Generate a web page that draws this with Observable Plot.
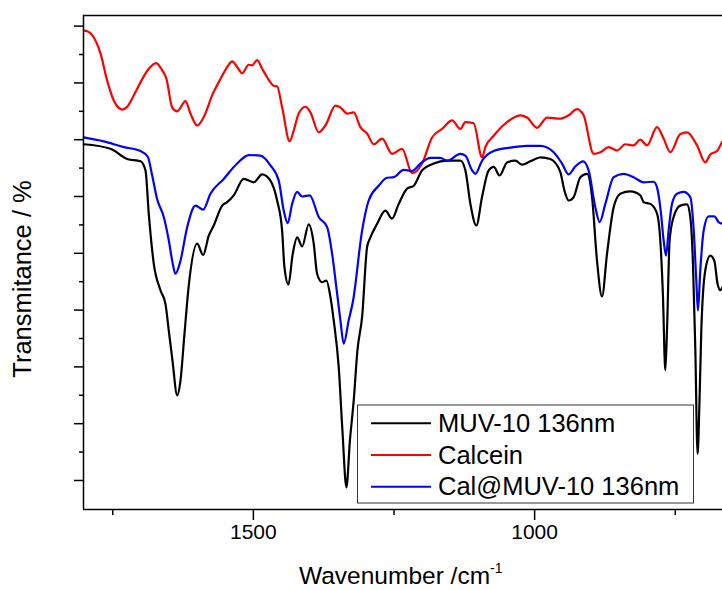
<!DOCTYPE html>
<html><head><meta charset="utf-8">
<script src="https://cdn.jsdelivr.net/npm/d3@7"></script>
<script src="https://cdn.jsdelivr.net/npm/@observablehq/plot@0.6"></script>
<style>body{margin:0;background:#fff}</style>
</head><body><div id="chart"></div>
<script>
const seriesNames = ["MUV-10 136nm", "Calcein", "Cal@MUV-10 136nm"];
const seriesColors = ["#000000", "#ff0000", "#0000ff"];
const xTicksMajor = [1500, 1000];
const xTicksMinor = [1750, 1250, 750];
const yTicksMajor = [10, 20, 30, 40, 50, 60, 70, 80, 90];
const yTicksMinor = [15, 25, 35, 45, 55, 65, 75, 85];
const xDomain = [1802, 666];
const yDomain = [4.89, 91.87];

const muvWn = [1801.5,1754.0,1724.3,1700.7,1691.8,1686.0,1677.1,1665.2,1656.3,1650.4,
1643.8,1635.5,1629.6,1622.5,1614.9,1599.9,1589.3,1579.3,1570.4,1555.5,
1546.6,1534.9,1517.1,1499.3,1484.4,1469.7,1457.8,1448.9,1444.8,1437.7,
1430.0,1422.2,1413.3,1401.6,1392.7,1386.7,1377.8,1370.1,1363.0,1357.2,
1348.3,1341.7,1334.6,1328.4,1321.6,1315.0,1306.7,1297.8,1291.9,1280.0,
1265.3,1253.4,1241.6,1226.7,1214.9,1200.1,1179.4,1155.6,1132.0,1123.1,
1114.2,1103.6,1093.5,1081.7,1072.8,1062.2,1049.0,1034.2,1022.3,1007.6,
989.8,972.0,954.3,947.2,939.5,930.6,918.7,906.8,897.9,889.1,
880.2,871.3,859.5,847.6,829.9,812.1,806.2,794.3,782.4,776.6,
771.8,767.7,764.7,760.0,752.9,741.0,729.1,723.3,718.5,714.4,
710.3,706.7,703.7,696.6,687.7,680.6,674.7,669.9,666.4];
const muvT = [69.2,68.4,66.6,66.2,64.6,57.0,48.2,43.5,41.1,36.4,
31.1,25.0,27.6,35.8,44.3,51.7,49.7,53.1,54.9,58.4,
59.0,60.2,63.1,62.5,63.9,62.8,59.3,54.0,47.6,44.5,
49.9,52.8,51.2,55.1,51.7,46.4,44.9,45.2,42.3,38.2,
30.0,18.8,8.8,17.0,24.1,32.9,38.8,51.1,52.8,55.2,
57.5,56.1,58.7,61.4,61.9,64.6,65.8,66.3,66.3,64.6,
58.7,54.9,59.9,64.6,65.2,63.7,66.0,66.3,65.6,66.2,
66.9,66.6,64.3,61.1,59.3,59.9,63.4,64.0,59.9,48.7,
42.4,49.9,58.1,60.5,60.9,60.2,59.0,58.7,57.0,52.3,
42.3,29.4,36.4,52.3,56.4,58.4,58.6,56.4,48.2,33.5,
14.7,24.7,36.4,47.0,49.6,48.7,44.6,43.5,44.0];

const calceinWn = [1801.5,1795.4,1783.7,1771.8,1759.9,1748.2,1739.3,1733.2,1724.3,1712.6,
1700.7,1686.0,1672.8,1662.1,1654.5,1644.4,1635.5,1620.7,1611.8,1599.9,
1588.2,1573.3,1558.5,1546.6,1537.7,1528.8,1520.0,1508.2,1502.2,1493.3,
1484.4,1475.5,1463.8,1457.8,1448.9,1435.4,1428.3,1419.4,1407.5,1398.6,
1383.8,1371.9,1354.1,1345.3,1333.4,1321.6,1309.7,1297.8,1286.1,1271.2,
1253.4,1235.6,1217.8,1200.1,1182.3,1164.5,1146.7,1132.0,1123.1,1108.4,
1093.5,1087.6,1072.8,1049.0,1025.4,1013.5,995.7,977.9,954.3,939.5,
924.6,912.9,895.1,883.2,868.4,853.5,838.8,824.0,812.1,800.2,
782.4,770.7,758.8,741.0,729.1,711.3,696.6,687.7,675.8,666.9];
const calceinT = [89.2,89.1,88.0,85.2,80.4,76.9,75.6,75.3,75.8,77.8,
80.1,82.5,83.5,82.2,80.7,75.7,75.0,76.8,74.6,72.5,
74.0,77.8,80.7,82.8,83.8,82.8,81.7,83.2,83.1,84.0,
82.5,81.0,79.5,79.4,75.7,69.7,71.6,74.6,75.8,74.8,
71.3,72.5,76.0,75.7,74.6,74.8,72.2,71.1,69.2,70.2,
67.5,68.4,64.1,65.8,70.4,71.9,73.4,71.9,73.1,72.9,
66.9,68.7,70.7,73.1,74.3,73.9,72.1,73.9,73.7,74.3,
75.4,74.3,67.5,67.8,68.7,68.1,69.2,69.0,70.0,69.0,
72.2,70.2,67.8,71.0,71.3,69.0,66.0,67.4,68.0,69.6];

const calMuvWn = [1801.5,1765.9,1730.4,1700.7,1687.7,1679.9,1671.0,1659.3,1650.4,1643.8,
1638.5,1629.6,1617.7,1602.9,1589.3,1576.3,1552.7,1528.8,1508.2,1487.4,
1469.7,1454.9,1446.0,1438.9,1431.1,1422.2,1413.3,1399.8,1383.8,1368.9,
1360.0,1351.1,1345.3,1339.4,1330.5,1322.7,1306.7,1295.0,1277.2,1262.3,
1250.5,1232.8,1217.8,1203.1,1185.3,1167.5,1155.6,1132.0,1123.1,1111.2,
1105.3,1093.5,1072.8,1043.1,1013.5,989.8,966.2,951.2,939.5,927.6,
913.9,904.0,892.1,884.4,874.3,859.5,841.8,824.0,806.2,788.5,
782.4,775.3,770.7,766.4,761.8,755.8,746.9,735.1,723.3,717.1,
712.6,709.6,705.5,699.5,690.7,680.6,672.9,666.4];
const calMuvT = [70.4,69.7,68.7,68.0,67.0,63.7,59.5,56.4,52.3,48.4,
46.4,48.7,54.6,58.4,57.7,60.5,63.1,65.8,67.3,67.2,
65.5,62.8,57.5,55.3,58.7,60.8,60.0,60.2,56.4,54.6,
49.9,42.9,38.2,34.1,38.2,41.7,54.0,59.3,61.9,63.3,
63.4,64.7,64.5,65.8,66.8,66.8,66.3,67.5,67.2,64.6,
64.0,66.3,68.0,68.6,68.9,68.9,67.8,65.8,63.9,65.3,
66.2,64.6,58.1,55.5,58.7,63.4,64.0,63.4,62.5,62.6,
61.6,57.0,52.3,49.6,54.0,58.7,60.5,60.8,59.9,54.0,
45.2,39.9,47.0,54.0,56.5,56.5,55.5,55.2];

const xLabel = "Wavenumber /cm";
const xLabelSup = "-1";
const yLabel = "Transmitance / %";

const seriesData = [[muvWn, muvT], [calceinWn, calceinT], [calMuvWn, calMuvT]];
const rows = [];
seriesData.forEach(([wn, t], i) => {
  wn.forEach((w, j) => rows.push({series: seriesNames[i], wn: w, t: t[j]}));
});

const font = "'Liberation Sans', Arial, Helvetica, sans-serif";
const W = 722, H = 590, mT = 15, mB = 81, mL = 83, mR = 0;

const svg = Plot.plot({
  width: W, height: H,
  marginTop: mT, marginBottom: mB, marginLeft: mL, marginRight: mR,
  style: {fontFamily: font, background: "#ffffff", color: "#000", overflow: "visible"},
  x: {domain: xDomain},
  y: {domain: yDomain},
  color: {domain: seriesNames, range: seriesColors},
  marks: [
    Plot.line(rows, {x: "wn", y: "t", z: "series", stroke: "series", strokeWidth: 2.2, curve: "monotone-x", strokeLinejoin: "round"}),
    Plot.axisX(xTicksMajor, {anchor: "bottom", tickSize: 11, tickPadding: 4, fontSize: 21, strokeWidth: 1.5, label: null, tickFormat: d => String(d)}),
    Plot.axisX(xTicksMinor, {anchor: "bottom", tickSize: 6, strokeWidth: 1.5, label: null, tickFormat: () => ""}),
    Plot.axisY(yTicksMajor, {anchor: "left", tickSize: 9, strokeWidth: 1.5, label: null, tickFormat: () => ""}),
    Plot.axisY(yTicksMinor, {anchor: "left", tickSize: 4, strokeWidth: 1.5, label: null, tickFormat: () => ""}),
    Plot.ruleX([xDomain[0]], {strokeWidth: 1.5}),
    Plot.ruleY([yDomain[0]], {strokeWidth: 1.5}),
    Plot.ruleY([yDomain[1]], {strokeWidth: 1.5})
  ]
});

const s = d3.select(svg);
// x label with superscript
const xt = s.append("text")
  .attr("x", 299).attr("y", 584)
  .attr("text-anchor", "start")
  .attr("font-family", font).attr("font-size", 24.5).attr("fill", "#000");
xt.append("tspan").text(xLabel);
xt.append("tspan").attr("font-size", 14).attr("dy", -11).text(xLabelSup);

// y label
s.append("text")
  .attr("transform", "translate(31,279) rotate(-90)")
  .attr("text-anchor", "middle")
  .attr("font-family", font).attr("font-size", 25.5).attr("fill", "#000")
  .text(yLabel);

// legend
const lg = s.append("g").attr("text-anchor", "start");
lg.append("rect").attr("x", 357.5).attr("y", 405).attr("width", 336).attr("height", 98)
  .attr("fill", "#fff").attr("stroke", "#333").attr("stroke-width", 1);
seriesNames.forEach((name, i) => {
  const cy = 423.3 + i * 31.7;
  lg.append("line").attr("x1", 371).attr("x2", 431).attr("y1", cy).attr("y2", cy)
    .attr("stroke", seriesColors[i]).attr("stroke-width", 2);
  lg.append("text").attr("x", 438).attr("y", cy + 8.6)
    .attr("text-anchor", "start")
    .attr("font-family", font).attr("font-size", 25.5).attr("fill", "#000")
    .text(name);
});

document.getElementById("chart").appendChild(svg);
</script>
</body></html>
